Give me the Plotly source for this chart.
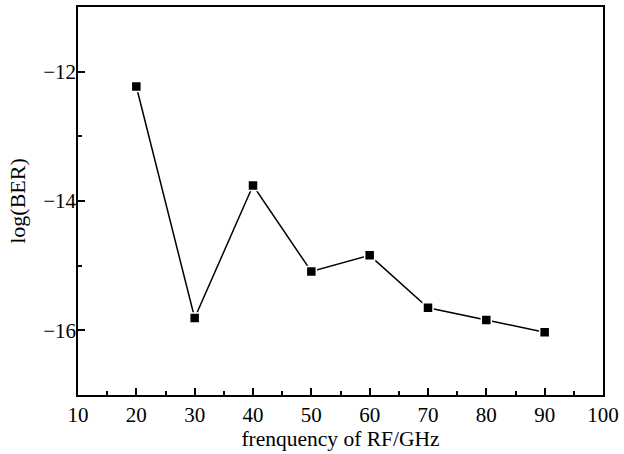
import plotly.graph_objects as go

freq = [20, 30, 40, 50, 60, 70, 80, 90]
log_ber = [-12.23, -15.81, -13.76, -15.09, -14.84, -15.65, -15.84, -16.03]

fig = go.Figure()
fig.add_trace(go.Scatter(
    x=freq, y=log_ber, mode="lines+markers",
    line=dict(color="black", width=1.5),
    marker=dict(symbol="square", size=10, color="black",
                line=dict(color="white", width=1.5)),
    showlegend=False,
))

font = dict(family="Liberation Serif", size=21, color="black")
axis_common = dict(
    showgrid=False, zeroline=False, showline=True, linecolor="black", linewidth=1.5,
    mirror=True, ticks="inside", ticklen=7, tickwidth=1.5, tickcolor="black",
    tickfont=font,
)
fig.update_xaxes(range=[10, 100], tick0=10, dtick=10,
                 minor=dict(ticks="inside", ticklen=4, tickwidth=1.5, dtick=5, tick0=10, tickcolor="black"),
                 title=dict(text="frenquency of RF/GHz", font=dict(family="Liberation Serif", size=21.5, color="black"), standoff=4),
                 **axis_common)
fig.update_yaxes(range=[-17, -11],
                 tickvals=[-16, -14, -12], ticktext=["\u221216", "\u221214", "\u221212"],
                 minor=dict(ticks="inside", ticklen=4, tickwidth=1.5, tickvals=[-17, -15, -13, -11], tickcolor="black"),
                 ticklabelstandoff=-4,
                 title=dict(text="log(BER)", font=dict(family="Liberation Serif", size=22, color="black"), standoff=12),
                 **axis_common)
fig.update_layout(
    width=624, height=454,
    margin=dict(l=78, r=19, t=5, b=59),
    plot_bgcolor="white", paper_bgcolor="white",
    font=font,
)
fig.write_html("out.html")
